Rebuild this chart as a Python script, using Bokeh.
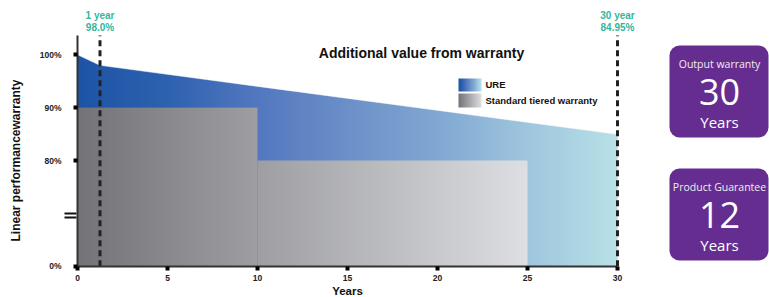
import numpy as np
from bokeh.plotting import figure
from bokeh.models import Label, FixedTicker, BoxAnnotation
from bokeh.layouts import row
from bokeh.embed import file_html
from bokeh.resources import INLINE

# ---------------- data ----------------
ure_years = [0, 1.25, 30]
ure_values = [100.0, 98.0, 84.95]
tier_years = [0, 10, 25]
tier_values = [90, 80]
x_ticks = [0, 5, 10, 15, 20, 25, 30]
y_ticks = [0, 80, 90, 100]
marker_years = [1.25, 30]
marker_names = ["1 year", "30 year"]
marker_values = [98.0, 84.95]
legend_names = ["URE", "Standard tiered warranty"]
chart_title = "Additional value from warranty"
x_title = "Years"
y_title = "Linear performancewarranty"
box_titles = ["Output warranty", "Product Guarantee"]
box_numbers = [30, 12]
box_units = ["Years", "Years"]

# ---------------- styles ----------------
FONT = "Liberation Sans"
TEAL = "#35b59b"
PURPLE = "#662d91"
BLUE_STOPS = ([0, 5, 10, 15, 20, 25, 30],
              [(30, 84, 166), (46, 98, 176), (84, 120, 192), (108, 144, 200),
               (128, 168, 210), (160, 198, 222), (184, 225, 231)])
GRAY_STOPS = ([0, 25], [(116, 116, 120), (222, 223, 226)])

W1, H = 648, 297
PX_PER_YEAR = 18.0
X0_PX = 77.0          # pixel of year 0
PX_PER_PCT = 5.285
Y80_PX = 160.0        # pixel of 80 %


def dx(px):
    return (px - X0_PX) / PX_PER_YEAR


def dy(py):
    return 80.0 + (Y80_PX - py) / PX_PER_PCT


def ypos(v):
    """broken axis: 80..100 linear, 0% placed just below the break"""
    return float(v) if v >= 80 else 60.0 + v * 0.25


def grad_image(x0, x1, stops, n=400, rows=2):
    sx, cols = stops
    xs = np.linspace(x0, x1, n)
    img = np.empty((rows, n), dtype=np.uint32)
    view = img.view(dtype=np.uint8).reshape((rows, n, 4))
    for k in range(3):
        view[:, :, k] = np.interp(xs, sx, [c[k] for c in cols]).astype(np.uint8)[None, :]
    view[:, :, 3] = 255
    return img


Y_BOT = ypos(0)
AXIS_TOP = dy(35)

p = figure(width=W1, height=H, x_range=(dx(0), dx(W1)), y_range=(dy(H), dy(0)),
           output_backend="svg", toolbar_location=None, min_border=0)
p.grid.visible = False
p.outline_line_color = None

# URE gradient area (gradient block, then everything above the URE line masked white)
p.image_rgba(image=[grad_image(ure_years[0], ure_years[-1], BLUE_STOPS, n=600)],
             x=ure_years[0], y=Y_BOT, dw=ure_years[-1] - ure_years[0], dh=max(ure_values) - Y_BOT)
mask_top = max(ure_values) + 1.0
mask_x = [ure_years[0] - 0.2] + list(ure_years) + [ure_years[-1] + 0.2, ure_years[-1] + 0.2, ure_years[0] - 0.2]
mask_y = [ure_values[0]] + list(ure_values) + [ure_values[-1], mask_top, mask_top]
p.patch(mask_x, mask_y, fill_color="white", line_color="white", line_width=0.5)

# standard tiered warranty area
for i, lvl in enumerate(tier_values):
    x0, x1 = tier_years[i], tier_years[i + 1]
    p.image_rgba(image=[grad_image(x0, x1, GRAY_STOPS, n=300)],
                 x=x0, y=Y_BOT, dw=x1 - x0, dh=ypos(lvl) - Y_BOT)

# dashed markers
p.segment(x0=marker_years, y0=[Y_BOT] * len(marker_years), x1=marker_years,
          y1=[AXIS_TOP] * len(marker_years), line_dash="6 4", line_width=3,
          line_color="#222222")

# axes (drawn at fixed locations inside the canvas)
for ax in (p.xaxis[0], p.yaxis[0]):
    ax.axis_line_width = 2
    ax.axis_line_color = "#333333"
    ax.major_tick_in = 0
    ax.major_tick_out = 4
    ax.major_tick_line_width = 4
    ax.major_tick_line_color = "#000000"
    ax.minor_tick_line_color = None
    ax.major_label_text_font = FONT
    ax.major_label_text_font_style = "bold"
    ax.major_label_text_font_size = "8.5px"
    ax.major_label_text_color = "#222222"
p.xaxis.fixed_location = Y_BOT
p.xaxis.bounds = (x_ticks[0], x_ticks[-1])
p.xaxis.ticker = FixedTicker(ticks=x_ticks)
p.xaxis.major_label_standoff = 5
p.xaxis.axis_label = x_title
p.xaxis.axis_label_text_font = FONT
p.xaxis.axis_label_text_font_style = "bold"
p.xaxis.axis_label_text_font_size = "11.5px"
p.xaxis.axis_label_text_color = "#111111"
p.xaxis.axis_label_standoff = 0

p.yaxis.fixed_location = 0
p.yaxis.bounds = (Y_BOT, AXIS_TOP)
p.yaxis.ticker = FixedTicker(ticks=[ypos(v) for v in y_ticks])
p.yaxis.major_label_overrides = {ypos(v): f"{v}%" for v in y_ticks}
p.yaxis.major_label_standoff = 12

# y title
p.add_layout(Label(x=dx(15), y=dy(160), angle=np.pi / 2, text=y_title,
                   text_font=FONT, text_font_style="bold", text_font_size="12px",
                   text_align="center", text_baseline="middle", text_color="#111111"))
# axis break mark
BREAK_PX = 215
p.segment(x0=[dx(64)] * 2, x1=[dx(76)] * 2, y0=[dy(BREAK_PX - 2), dy(BREAK_PX + 2)],
          y1=[dy(BREAK_PX - 2), dy(BREAK_PX + 2)], line_width=2, line_color="#111111")

# marker annotations
for yr, nm, val in zip(marker_years, marker_names, marker_values):
    p.add_layout(Label(x=yr, y=dy(15), text=nm, text_font=FONT, text_font_style="bold",
                       text_font_size="10px", text_align="center", text_baseline="middle",
                       text_color=TEAL))
    p.add_layout(Label(x=yr, y=dy(26.5), text=f"{val}%", text_font=FONT, text_font_style="bold",
                       text_font_size="10px", text_align="center", text_baseline="middle",
                       text_color=TEAL))

# title
p.add_layout(Label(x=dx(421), y=dy(52), text=chart_title, text_font=FONT, text_font_style="bold",
                   text_font_size="14px", text_align="center", text_baseline="middle",
                   text_color="#111111"))

# legend
sw_x0, sw_x1 = dx(458), dx(481)
p.image_rgba(image=[grad_image(0, 30, BLUE_STOPS, n=60)], x=sw_x0, y=dy(91),
             dw=sw_x1 - sw_x0, dh=dy(78) - dy(91))
p.image_rgba(image=[grad_image(0, 25, GRAY_STOPS, n=60)], x=sw_x0, y=dy(107),
             dw=sw_x1 - sw_x0, dh=dy(93) - dy(107))
for nm, yy in zip(legend_names, [84, 99.5]):
    p.add_layout(Label(x=dx(485), y=dy(yy), text=nm, text_font=FONT, text_font_style="bold",
                       text_font_size="9.5px", text_align="left", text_baseline="middle",
                       text_color="#111111"))

# ---------------- side boxes ----------------
W2 = 769 - W1
q = figure(width=W2, height=H, x_range=(W1, W1 + W2), y_range=(H, 0),
           output_backend="svg", toolbar_location=None, x_axis_type=None, y_axis_type=None,
           min_border=0)
q.grid.visible = False
q.outline_line_color = None
box_tops = [45, 168]
for top, t, n, u in zip(box_tops, box_titles, box_numbers, box_units):
    q.add_layout(BoxAnnotation(left=669, right=768, top=top, bottom=top + 92,
                               fill_color=PURPLE, fill_alpha=1, line_color=None,
                               border_radius=10))
    cx = 719
    q.add_layout(Label(x=cx, y=top + 18, text=t, text_font="Open Sans", text_font_size="10.5px",
                       text_align="center", text_baseline="middle", text_color="#eeeeee"))
    q.add_layout(Label(x=cx, y=top + 46, text=str(n), text_font="Open Sans", text_font_size="36px",
                       text_align="center", text_baseline="middle", text_color="white"))
    q.add_layout(Label(x=cx, y=top + 76, text=u, text_font="Open Sans", text_font_size="15px",
                       text_align="center", text_baseline="middle", text_color="white"))

layout = row(p, q)
open("out.html", "w").write(file_html(layout, INLINE))
